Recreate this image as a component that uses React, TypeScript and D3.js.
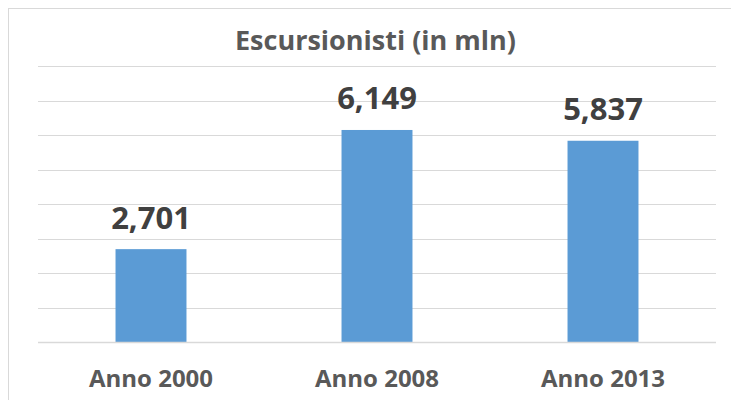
import React, { useEffect, useRef } from "react";
import * as d3 from "d3";

const categories = ["Anno 2000", "Anno 2008", "Anno 2013"];
const values = [2.701, 6.149, 5.837];
const valueLabels = ["2,701", "6,149", "5,837"];
const gridTicks = [0, 1, 2, 3, 4, 5, 6, 7, 8];
const title = "Escursionisti (in mln)";

export default function App() {
  const ref = useRef<SVGSVGElement>(null);
  const width = 731;
  const height = 400;

  useEffect(() => {
    const svg = d3.select(ref.current);
    svg.selectAll("*").remove();

    const font = "'Open Sans', 'DejaVu Sans', sans-serif";
    const left = 38;
    const right = 716;
    const top = 66;
    const bottom = 342.5;

    // chart frame
    svg
      .append("rect")
      .attr("x", 8.5)
      .attr("y", 8.5)
      .attr("width", 760)
      .attr("height", 420)
      .attr("fill", "#fff")
      .attr("stroke", "#d9d9d9")
      .attr("stroke-width", 1);

    const x = d3
      .scaleBand<string>()
      .domain(categories)
      .range([left, right])
      .paddingInner(0.686)
      .paddingOuter(0.343);

    const y = d3.scaleLinear().domain([0, 8]).range([bottom, top]);

    svg
      .append("g")
      .selectAll("line")
      .data(gridTicks.filter((t) => t > 0))
      .enter()
      .append("line")
      .attr("x1", left)
      .attr("x2", right)
      .attr("y1", (d) => Math.round(y(d)) + 0.5)
      .attr("y2", (d) => Math.round(y(d)) + 0.5)
      .attr("stroke", "#d9d9d9")
      .attr("stroke-width", 1);

    svg
      .append("g")
      .selectAll("rect")
      .data(values)
      .enter()
      .append("rect")
      .attr("x", (d, i) => x(categories[i])!)
      .attr("y", (d) => y(d))
      .attr("width", x.bandwidth())
      .attr("height", (d) => y(0) - y(d))
      .attr("fill", "#5b9bd5");

    // baseline axis
    svg
      .append("line")
      .attr("x1", left)
      .attr("x2", right)
      .attr("y1", y(0))
      .attr("y2", y(0))
      .attr("stroke", "#d9d9d9")
      .attr("stroke-width", 1.5);

    svg
      .append("g")
      .selectAll("text")
      .data(values)
      .enter()
      .append("text")
      .attr("x", (d, i) => x(categories[i])! + x.bandwidth() / 2)
      .attr("y", (d) => y(d) - 20.5)
      .attr("text-anchor", "middle")
      .attr("font-family", font)
      .attr("font-weight", 700)
      .attr("font-size", 31)
      .attr("fill", "#404040")
      .text((d, i) => valueLabels[i]);

    svg
      .append("g")
      .selectAll("text")
      .data(categories)
      .enter()
      .append("text")
      .attr("x", (d) => x(d)! + x.bandwidth() / 2)
      .attr("y", 387)
      .attr("text-anchor", "middle")
      .attr("font-family", font)
      .attr("font-weight", 700)
      .attr("font-size", 24)
      .attr("fill", "#595959")
      .text((d) => d);

    svg
      .append("text")
      .attr("x", 375.5)
      .attr("y", 50)
      .attr("text-anchor", "middle")
      .attr("font-family", font)
      .attr("font-weight", 700)
      .attr("font-size", 27)
      .attr("fill", "#595959")
      .text(title);
  }, []);

  return (
    <svg
      ref={ref}
      width={width}
      height={height}
      style={{ position: "absolute", left: 0, top: 0, background: "#fff" }}
    />
  );
}
